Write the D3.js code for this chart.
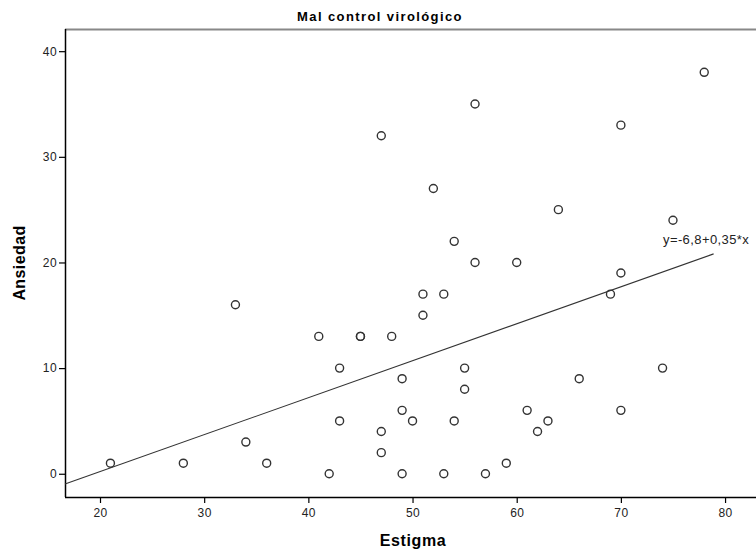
<!DOCTYPE html>
<html>
<head>
<meta charset="utf-8">
<script src="https://cdn.jsdelivr.net/npm/d3@7"></script>
<style>
  body { margin: 0; background: #fff; }
  svg { display: block; font-family: Arial, "Liberation Sans", sans-serif; }
</style>
</head>
<body>
<div id="chart"></div>
<script>
// Estigma (x) vs Ansiedad (y), grupo con mal control virológico
var estigma  = [21, 28, 33, 34, 36, 41, 42, 43, 43, 45, 45, 47, 47, 47, 48, 49, 49, 49, 50, 51, 51, 52, 53, 53, 54, 54, 55, 55, 56, 56, 57, 59, 60, 61, 62, 63, 64, 66, 69, 70, 70, 70, 74, 75, 78];
var ansiedad = [ 1,  1, 16,  3,  1, 13,  0, 10,  5, 13, 13, 32,  4,  2, 13,  9,  6,  0,  5, 17, 15, 27, 17,  0, 22,  5, 10,  8, 35, 20,  0,  1, 20,  6,  4,  5, 25,  9, 17, 33, 19,  6, 10, 24, 38];
var xTicks = [20, 30, 40, 50, 60, 70, 80];
var yTicks = [0, 10, 20, 30, 40];
var fitA = -6.8, fitB = 0.35;
var fitLabel = "y=-6,8+0,35*x";

var width = 756, height = 549;
var plotLeft = 65, plotRight = 756, plotTop = 29, plotBottom = 497;

var svg = d3.select("#chart").append("svg")
    .attr("width", width)
    .attr("height", height);

var x = d3.scaleLinear().domain([16.64, 82.97]).range([plotLeft, plotRight]);
var y = d3.scaleLinear().domain([-2.2, 42.1]).range([plotBottom, plotTop]);

// title
svg.append("text")
    .attr("x", 380).attr("y", 21)
    .attr("text-anchor", "middle")
    .style("font-weight", "bold")
    .style("font-size", "13px")
    .style("letter-spacing", "1.4px")
    .text("Mal control virológico");

// top frame line (gray)
svg.append("line")
    .attr("x1", plotLeft).attr("x2", plotRight)
    .attr("y1", plotTop + 0.5).attr("y2", plotTop + 0.5)
    .style("stroke", "#888").style("stroke-width", 2);

// axes
var xAxis = svg.append("g")
    .attr("transform", "translate(0," + plotBottom + ")")
    .call(d3.axisBottom(x).tickValues(xTicks).tickSize(6).tickPadding(5));
var yAxis = svg.append("g")
    .attr("transform", "translate(" + plotLeft + ",0)")
    .call(d3.axisLeft(y).tickValues(yTicks).tickSize(6).tickPadding(2));

[xAxis, yAxis].forEach(function(g) {
    g.select(".domain").style("stroke", "#000").style("stroke-width", 1.5);
    g.selectAll(".tick line").style("stroke", "#000").style("stroke-width", 1.2);
    g.selectAll(".tick text")
        .style("font-size", "12px")
        .style("letter-spacing", "0.4px")
        .style("fill", "#222")
        .style("font-family", "Arial, 'Liberation Sans', sans-serif");
});
xAxis.select(".domain").attr("d", "M" + plotLeft + ",0.5H" + plotRight);
yAxis.select(".domain").attr("d", "M0.5," + plotTop + "V" + plotBottom);

// axis titles
svg.append("text")
    .attr("x", 413).attr("y", 546)
    .attr("text-anchor", "middle")
    .style("font-weight", "bold")
    .style("font-size", "16px")
    .style("letter-spacing", "0.6px")
    .text("Estigma");

svg.append("text")
    .attr("transform", "translate(25,263) rotate(-90)")
    .attr("text-anchor", "middle")
    .style("font-weight", "bold")
    .style("font-size", "16px")
    .style("letter-spacing", "0.4px")
    .text("Ansiedad");

// fit line
var fitX = [16.64, 78.9];
svg.append("line")
    .attr("x1", x(fitX[0])).attr("y1", y(fitA + fitB * fitX[0]))
    .attr("x2", x(fitX[1])).attr("y2", y(fitA + fitB * fitX[1]))
    .style("stroke", "#333").style("stroke-width", 1.1);

svg.append("text")
    .attr("x", 663).attr("y", 244)
    .style("font-size", "13px")
    .style("letter-spacing", "0.4px")
    .style("fill", "#222")
    .text(fitLabel);

// points
svg.append("g").selectAll("circle")
    .data(d3.range(estigma.length))
    .enter().append("circle")
    .attr("cx", function(i) { return x(estigma[i]); })
    .attr("cy", function(i) { return y(ansiedad[i]); })
    .attr("r", 4)
    .style("fill", "none")
    .style("stroke", "#333")
    .style("stroke-width", 1.4);
</script>
</body>
</html>
